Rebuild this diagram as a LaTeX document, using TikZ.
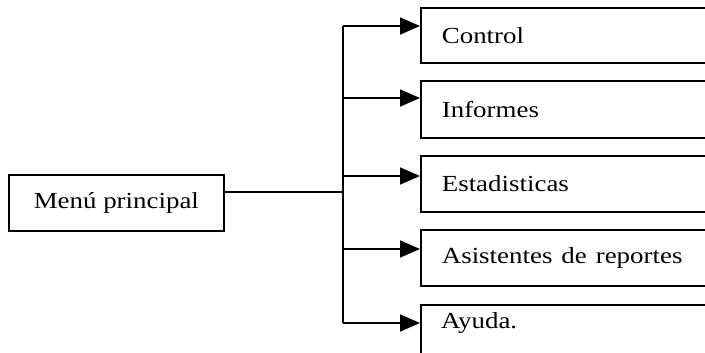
\documentclass[tikz,border=0pt]{standalone}
\usepackage{fontspec}
\usepackage{graphicx}
\setmainfont{Liberation Serif}
\usetikzlibrary{arrows.meta}
\newcommand{\wtxt}[1]{\scalebox{1.17}[1]{#1}}
\begin{document}
\begin{tikzpicture}[x=1pt,y=-1pt,
  box/.style={draw, line width=1.7pt, rectangle, anchor=north west, align=left,
    inner xsep=21pt, text width=290pt, minimum height=56pt, font=\fontsize{23}{27}\selectfont},
  mbox/.style={draw, line width=1.7pt, rectangle, anchor=north west,
    minimum width=215pt, minimum height=56pt, font=\fontsize{23}{27}\selectfont},
  conn/.style={line width=1.7pt},
  arr/.style={line width=1.7pt, -{Triangle[length=20pt,width=17pt]}}]
\useasboundingbox (0,0) rectangle (705,353);
\clip (0,0) rectangle (705,353);
\node[mbox] (menu) at (8,174) {\wtxt{Menú principal}};
\node[box, minimum height=55pt] (c1) at (420,7) {\wtxt{Control}};
\node[box, minimum height=57pt] (c2) at (420,80) {\wtxt{Informes}};
\node[box, minimum height=56pt] (c3) at (420,155) {\wtxt{Estadisticas}};
\node[box, minimum height=56pt] (c4) at (420,229) {\wtxt{Asistentes de reportes}};
\node[box, minimum height=80pt] (c5) at (420,304) {};
\node[font=\fontsize{23}{27}\selectfont, anchor=west, inner sep=0pt] (c5t) at (441,323) {\wtxt{Ayuda.}};
\coordinate (bus) at (343,192);
\coordinate (a1) at (343,26);
\coordinate (a2) at (343,98);
\coordinate (a3) at (343,176);
\coordinate (a4) at (343,249);
\coordinate (a5) at (343,323);
\draw[conn] (menu.east |- bus) -- (bus);
\draw[conn] (a1) -- (a5);
\draw[arr] (a1) -- (a1 -| c1.west);
\draw[arr] (a2) -- (a2 -| c2.west);
\draw[arr] (a3) -- (a3 -| c3.west);
\draw[arr] (a4) -- (a4 -| c4.west);
\draw[arr] (a5) -- (a5 -| c5.west);
\end{tikzpicture}
\end{document}
